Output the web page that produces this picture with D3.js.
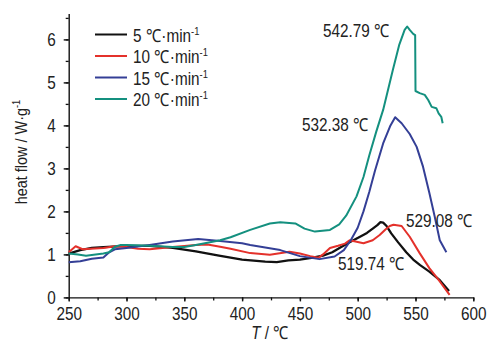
<!DOCTYPE html>
<html>
<head>
<meta charset="utf-8">
<script src="https://cdn.jsdelivr.net/npm/d3@7"></script>
<style>
  body { margin: 0; background: #fff; }
  svg text { font-family: "Liberation Sans", Arial, sans-serif; fill: #222; }
</style>
</head>
<body>
<div id="chart"></div>
<script>
(function () {

  // heating rates shown in the legend
  const rates = ['5', '10', '15', '20'];
  const colors = ['#111111', '#e4312b', '#343f96', '#14907f'];

  // [T, heat flow], one array per heating rate
  const curve5 = [[250, 1.02], [260, 1.1], [270, 1.15], [280, 1.17], [300, 1.2], [320, 1.2], [340, 1.15],
    [360, 1.07], [380, 0.97], [400, 0.88], [420, 0.83], [430, 0.82], [440, 0.86], [450, 0.88],
    [460, 0.92], [470, 0.97], [478, 1.05], [485, 1.16], [493, 1.28], [502, 1.41], [508, 1.5],
    [513, 1.6], [517, 1.68], [519.7, 1.75], [522, 1.74], [525, 1.66], [529, 1.49], [535, 1.28],
    [542, 1.05], [548, 0.88], [554, 0.75], [562, 0.6], [571, 0.4], [579, 0.15]];

  const curve10 = [[250, 1.05], [256, 1.19], [262, 1.12], [280, 1.15], [290, 1.19], [300, 1.17],
    [310, 1.13], [320, 1.12], [340, 1.17], [360, 1.22], [370, 1.23], [381, 1.18], [390, 1.13],
    [407, 1.03], [424, 0.99], [441, 1.06], [450, 1.02], [459, 0.96], [466, 0.92], [470, 1.0],
    [476, 1.15], [483, 1.2], [489, 1.25], [493, 1.33], [498, 1.3], [505, 1.26], [513, 1.33],
    [519, 1.45], [524, 1.58], [527.7, 1.66], [531, 1.69], [538, 1.66], [545, 1.41], [553.6, 1.03],
    [562, 0.68], [571, 0.37], [579.5, 0.06]];

  const curve15 = [[250, 0.82], [260, 0.84], [270, 0.9], [280, 0.93], [285, 1.05], [290, 1.12],
    [300, 1.15], [320, 1.22], [340, 1.3], [362, 1.36], [381, 1.31], [400, 1.26], [407, 1.22],
    [420, 1.16], [433, 1.1], [450, 0.96], [467, 0.89], [480, 0.95], [488, 1.1], [494, 1.33],
    [500, 1.62], [505, 2.0], [510, 2.45], [515, 2.95], [522, 3.58], [528, 3.98], [532.4, 4.19],
    [538, 4.05], [545, 3.8], [551, 3.5], [556.5, 3.04], [562, 2.43], [566.6, 1.88], [571, 1.33],
    [576.7, 1.05]];

  const curve20 = [[250, 1.02], [258, 1.0], [265, 0.97], [280, 1.02], [285, 1.05], [290, 1.18],
    [295, 1.22], [300, 1.22], [320, 1.2], [340, 1.17], [350, 1.17], [360, 1.22], [370, 1.27],
    [381, 1.33], [390, 1.4], [407, 1.57], [424, 1.72], [433, 1.75], [446, 1.72], [454, 1.6],
    [463, 1.53], [476, 1.57], [484, 1.7], [490, 1.9], [499, 2.35], [505, 2.8], [510, 3.3],
    [516, 3.85], [522, 4.36], [530.5, 5.3], [536, 5.88], [540.6, 6.22], [542.8, 6.3], [545, 6.22],
    [548, 6.13], [549.7, 6.1], [550, 4.8], [553.6, 4.75], [558, 4.71], [561, 4.59], [564, 4.43],
    [568, 4.4], [570, 4.28], [572.3, 4.2], [573.5, 4.05]];

  const curves = [curve5, curve10, curve15, curve20];

  // peak annotations: text and where it sits
  const peakLabels = ['542.79 ℃', '532.38 ℃', '529.08 ℃', '519.74 ℃'];
  const peakLabelPos = [[323, 37], [302, 131], [406, 227], [338, 269.5]];

  const xTicks = [250, 300, 350, 400, 450, 500, 550, 600];
  const yTicks = [0, 1, 2, 3, 4, 5, 6];

  const width = 489, height = 344;
  const squeeze = 0.85; // the original font is a condensed one
  const fs = 18;

  const svg = d3.select('#chart')
    .append('svg')
    .attr('width', width)
    .attr('height', height);

  const x = d3.scaleLinear().domain([250, 600]).range([68.7, 473.3]);
  const y = d3.scaleLinear().domain([0, 6.6]).range([297.4, 13.6]);

  // minor ticks first, majors on top
  svg.append('g')
    .attr('transform', `translate(0,${y(0)})`)
    .call(d3.axisBottom(x).tickValues(d3.range(250, 601, 25)).tickSize(3).tickFormat(''))
    .call(g => g.select('.domain').remove())
    .call(g => g.selectAll('line').attr('stroke', '#111').attr('stroke-width', 1.3));
  svg.append('g')
    .attr('transform', `translate(${x(250)},0)`)
    .call(d3.axisLeft(y).tickValues(d3.range(0, 6.51, 0.5)).tickSize(3).tickFormat(''))
    .call(g => g.select('.domain').remove())
    .call(g => g.selectAll('line').attr('stroke', '#111').attr('stroke-width', 1.3));

  const xAxis = svg.append('g')
    .attr('transform', `translate(0,${y(0)})`)
    .call(d3.axisBottom(x).tickValues(xTicks).tickSize(4).tickSizeOuter(0).tickPadding(6)
      .tickFormat(d3.format('d')));
  const yAxis = svg.append('g')
    .attr('transform', `translate(${x(250)},0)`)
    .call(d3.axisLeft(y).tickValues(yTicks).tickSize(5).tickSizeOuter(0)
      .tickFormat(d3.format('d')));

  [xAxis, yAxis].forEach(g => {
    g.selectAll('path, line').attr('stroke', '#111').attr('stroke-width', 1.4);
    g.selectAll('text').style('font-size', fs + 'px').attr('fill', '#222')
      .attr('transform', `scale(${squeeze},1)`);
  });
  yAxis.selectAll('text').attr('x', -13 / squeeze);

  // curves
  const line = d3.line().x(d => x(d[0])).y(d => y(d[1]));
  svg.append('g')
    .selectAll('path')
    .data(curves)
    .join('path')
    .attr('d', line)
    .attr('fill', 'none')
    .attr('stroke', (d, i) => colors[i])
    .attr('stroke-width', (d, i) => i === 0 ? 2.3 : 2)
    .attr('stroke-linejoin', 'round');

  // peak labels
  svg.append('g')
    .selectAll('text')
    .data(peakLabels)
    .join('text')
    .attr('transform', (d, i) => `translate(${peakLabelPos[i][0]},${peakLabelPos[i][1]}) scale(${squeeze},1)`)
    .style('font-size', fs + 'px')
    .text(d => d);

  // legend
  const legend = svg.append('g').attr('transform', 'translate(95,34.5)');
  const item = legend.selectAll('g')
    .data(rates)
    .join('g')
    .attr('transform', (d, i) => `translate(0,${i * 21.5})`);
  item.append('line')
    .attr('x1', 0).attr('x2', 32)
    .attr('stroke', (d, i) => colors[i])
    .attr('stroke-width', 2);
  const lt = item.append('text')
    .attr('transform', `translate(38,7) scale(${squeeze},1)`)
    .style('font-size', fs + 'px');
  lt.append('tspan').text(d => `${d} ℃·min`);
  lt.append('tspan').attr('dy', -7).style('font-size', '11px').text('-1');

  // axis titles
  const yt = svg.append('text')
    .attr('transform', `translate(27,152) rotate(-90) scale(${squeeze},1)`)
    .attr('text-anchor', 'middle')
    .style('font-size', '17px');
  yt.append('tspan').text('heat flow / W·g');
  yt.append('tspan').attr('dy', -7).style('font-size', '11px').text('-1');

  const xt = svg.append('text')
    .attr('transform', `translate(270,339) scale(${squeeze},1)`)
    .attr('text-anchor', 'middle')
    .style('font-size', fs + 'px');
  xt.append('tspan').style('font-style', 'italic').text('T');
  xt.append('tspan').text('  /  ℃');

})();
</script>
</body>
</html>
